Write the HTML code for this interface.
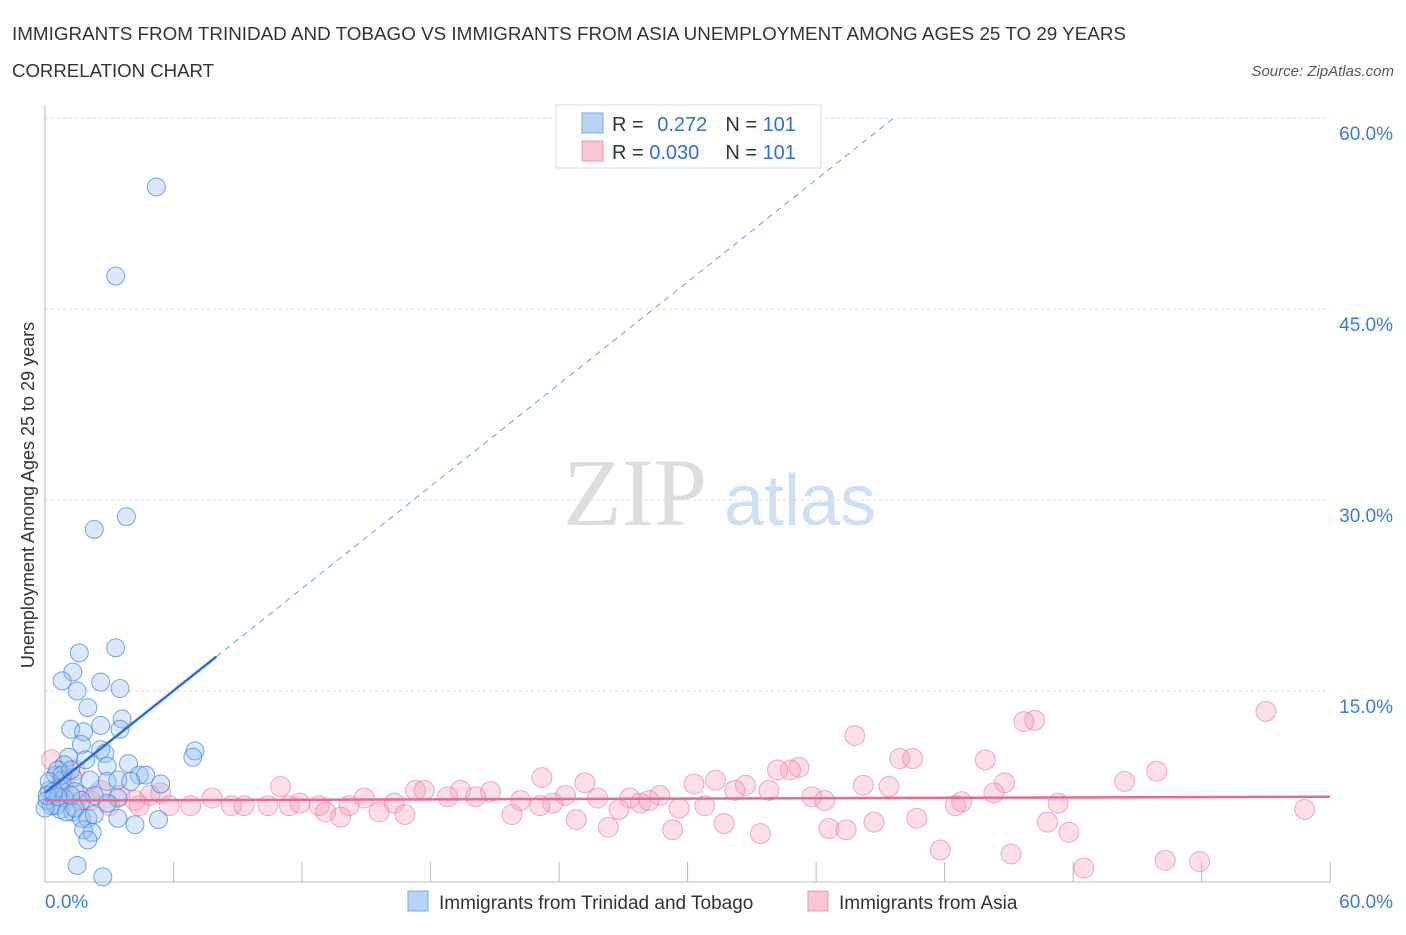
<!DOCTYPE html>
<html><head><meta charset="utf-8">
<style>
body{margin:0;background:#fff;font-family:"Liberation Sans",sans-serif;}
</style></head>
<body>
<svg width="1406" height="930" xmlns="http://www.w3.org/2000/svg" font-family="Liberation Sans, sans-serif">
<text x="12" y="40" font-size="18" fill="#333" textLength="1114" lengthAdjust="spacingAndGlyphs">IMMIGRANTS FROM TRINIDAD AND TOBAGO VS IMMIGRANTS FROM ASIA UNEMPLOYMENT AMONG AGES 25 TO 29 YEARS</text>
<text x="12" y="77" font-size="18" fill="#333" textLength="202" lengthAdjust="spacingAndGlyphs">CORRELATION CHART</text>
<text x="1394" y="76" font-size="15" fill="#555" font-style="italic" text-anchor="end">Source: ZipAtlas.com</text>
<g>
<text x="635" y="525" font-size="96" fill="#ddd" font-family="Liberation Serif, serif" text-anchor="middle">ZIP</text>
<text x="800" y="525" font-size="72" fill="#cfe0f4" text-anchor="middle">atlas</text>
</g>
<g id="grid"></g>
<g id="axes"></g>
<g id="marks"></g>
<text transform="translate(34,495) rotate(-90)" font-size="18" fill="#333" text-anchor="middle">Unemployment Among Ages 25 to 29 years</text>
<g>
<rect x="556" y="105" width="265" height="63" fill="#fff" stroke="#ddd"/>
<rect x="582" y="113" width="21" height="20" fill="#b8d4f5" stroke="#7aaae6"/>
<rect x="582" y="141" width="21" height="20" fill="#f9c6d4" stroke="#ee9ab2"/>
<text x="612" y="131" font-size="20" fill="#333">R = <tspan fill="#2f6fce" dx="8">0.272</tspan><tspan dx="18" fill="#333">N = </tspan><tspan fill="#2f6fce">101</tspan></text>
<text x="612" y="159" font-size="20" fill="#333">R = <tspan fill="#2f6fce">0.030</tspan><tspan dx="26" fill="#333">N = </tspan><tspan fill="#2f6fce">101</tspan></text>
</g>
<g>
<rect x="408" y="891" width="20" height="20" fill="#b8d4f5" stroke="#7aaae6"/>
<text x="439" y="909" font-size="19" fill="#333">Immigrants from Trinidad and Tobago</text>
<rect x="808" y="891" width="20" height="20" fill="#f9c6d4" stroke="#ee9ab2"/>
<text x="839" y="909" font-size="19" fill="#333">Immigrants from Asia</text>
</g>
</svg>
<script>
const blueX=[5.2,3.3,3.8,2.3,3.3,1.6,1.3,0.8,2.6,1.5,3.5,2.0,3.6,1.2,1.8,3.5,2.6,7.0,6.9,1.1,1.7,2.6,2.8,0.9,1.9,3.9,2.9,4.4,4.7,0.5,1.3,2.1,2.9,3.4,4.0,0.2,0.7,1.4,2.3,3.4,0.1,0.5,0.9,1.7,0.7,0.3,0,1.3,1.7,2.0,3.4,5.3,4.2,1.8,2.2,2.0,1.5,2.7,5.4,2.9,1.2,0.8,0.6,0.2,0.6,0.1,0.4,1.0,2.3,1.4,0.8,1.2];
const blueY=[54.6,47.6,28.7,27.7,18.4,18.0,16.5,15.8,15.7,15.0,15.2,13.7,12.8,12.0,11.8,12.0,12.3,10.3,9.8,9.8,10.8,10.4,10.1,9.2,9.6,9.3,9.1,8.4,8.4,8.4,8.2,8.0,7.9,8.0,7.9,7.2,7.4,7.1,6.8,6.6,6.4,6.0,6.6,6.4,5.7,6.0,5.8,5.5,5.0,5.0,5.0,4.9,4.5,4.1,3.9,3.3,1.3,0.4,7.7,6.2,6.8,8.0,8.8,7.9,6.7,6.8,7.1,5.5,5.3,5.8,8.4,8.8];
const pinkX=[57.0,46.2,45.7,37.8,39.9,40.5,43.9,35.2,34.8,34.2,51.9,23.2,31.3,50.4,44.8,25.2,30.3,32.7,38.2,39.4,11.0,17.3,17.7,19.4,20.8,32.2,33.8,44.3,24.3,28.7,20.1,25.8,27.3,35.8,18.8,4.9,5.4,7.8,14.9,22.2,23.7,27.8,28.2,30.8,36.4,42.8,42.5,47.3,58.8,6.8,8.7,9.3,10.4,11.4,11.9,12.8,14.2,16.3,23.1,26.8,29.6,13.1,13.8,15.6,16.8,21.8,24.8,40.7,38.7,46.8,26.3,31.7,36.6,37.4,47.8,29.3,33.4,41.8,45.1,48.5,52.3,53.9,0.3,0.7,1.6,2.6,3.5,4.2,3.0,2.1,4.4,5.8,0.9,1.4];
const pinkY=[13.4,12.7,12.6,11.5,9.7,9.7,9.6,9.0,8.8,8.8,8.7,8.2,8.0,7.9,7.8,7.8,7.7,7.6,7.6,7.5,7.5,7.2,7.2,7.2,7.1,7.2,7.2,7.0,6.8,6.8,6.7,6.6,6.6,6.7,6.7,6.8,7.0,6.6,6.6,6.4,6.2,6.2,6.4,6.0,6.4,6.3,6.0,6.2,5.7,6.0,6.0,6.0,6.0,6.0,6.2,6.0,6.0,6.2,6.0,5.7,5.8,5.5,5.1,5.5,5.3,5.3,4.9,5.0,4.7,4.7,4.3,4.6,4.2,4.1,3.9,4.1,3.8,2.5,2.2,1.1,1.7,1.6,9.6,7.2,6.8,7.2,6.8,6.4,6.0,6.4,6.0,6.0,8.0,8.8];
const yTicks=[15,30,45,60];
const yTickLabels=["15.0%","30.0%","45.0%","60.0%"];
const xTicks=[0,6,12,18,24,30,36,42,48,54,60];
const blueTrend=[7.0,1.338];
const pinkTrend=[6.4,0.005];

const NS="http://www.w3.org/2000/svg";
const X=v=>45+v*21.42, Y=v=>882-v*12.73;
function mk(p,t,a){const e=document.createElementNS(NS,t);for(const k in a)e.setAttribute(k,a[k]);p.appendChild(e);return e;}
const grid=document.getElementById('grid'),axes=document.getElementById('axes'),marks=document.getElementById('marks');
yTicks.forEach((t,i)=>{
 const l=mk(grid,'line',{x1:45,x2:1330,y1:Y(t),y2:Y(t),stroke:'#ddd','stroke-dasharray':'3,3'});
 
 
 const tx=mk(axes,'text',{x:1393,y:Y(t)+22,'font-size':19,fill:'#3a7bd5','text-anchor':'end'});
 tx.textContent=yTickLabels[i];
 
 
});
const ya=mk(axes,'line',{x1:45,x2:45,y1:105,y2:882,stroke:'#bbb'});


const xa=mk(axes,'line',{x1:45,x2:1330,y1:882,y2:882,stroke:'#bbb'});


xTicks.forEach(t=>{
 const l=mk(axes,'line',{x1:X(t),x2:X(t),y1:862,y2:882,stroke:'#bbb'});
 
 
});
[[0,"0.0%","start",45],[60,"60.0%","end",1393]].forEach(d=>{
 const tx=mk(axes,'text',{x:d[3],y:908,'font-size':19,fill:'#3a7bd5','text-anchor':d[2]});
 tx.textContent=d[1];
 
 
});
pinkX.forEach((v,i)=>{
 const c=mk(marks,'circle',{cx:X(v),cy:Y(pinkY[i]),r:10,fill:'rgba(244,160,186,0.35)',stroke:'rgba(232,120,155,0.6)','stroke-width':1});
 
 
});
blueX.forEach((v,i)=>{
 const c=mk(marks,'circle',{cx:X(v),cy:Y(blueY[i]),r:9,fill:'rgba(150,190,240,0.35)',stroke:'rgba(60,130,220,0.7)','stroke-width':1});
 
 
});
const bEnd=(60-blueTrend[0])/blueTrend[1];
const bs=mk(marks,'line',{x1:X(0),y1:Y(blueTrend[0]),x2:X(8),y2:Y(blueTrend[0]+8*blueTrend[1]),stroke:'#2a6fd6','stroke-width':2.5});


const bd=mk(marks,'line',{x1:X(8),y1:Y(blueTrend[0]+8*blueTrend[1]),x2:X(bEnd),y2:Y(60),stroke:'#6a9fe0','stroke-width':1,'stroke-dasharray':'6,5'});


const pt=mk(marks,'line',{x1:X(0),y1:Y(pinkTrend[0]),x2:X(60),y2:Y(pinkTrend[0]+60*pinkTrend[1]),stroke:'#e86a92','stroke-width':2.5});


</script>
</body></html>
